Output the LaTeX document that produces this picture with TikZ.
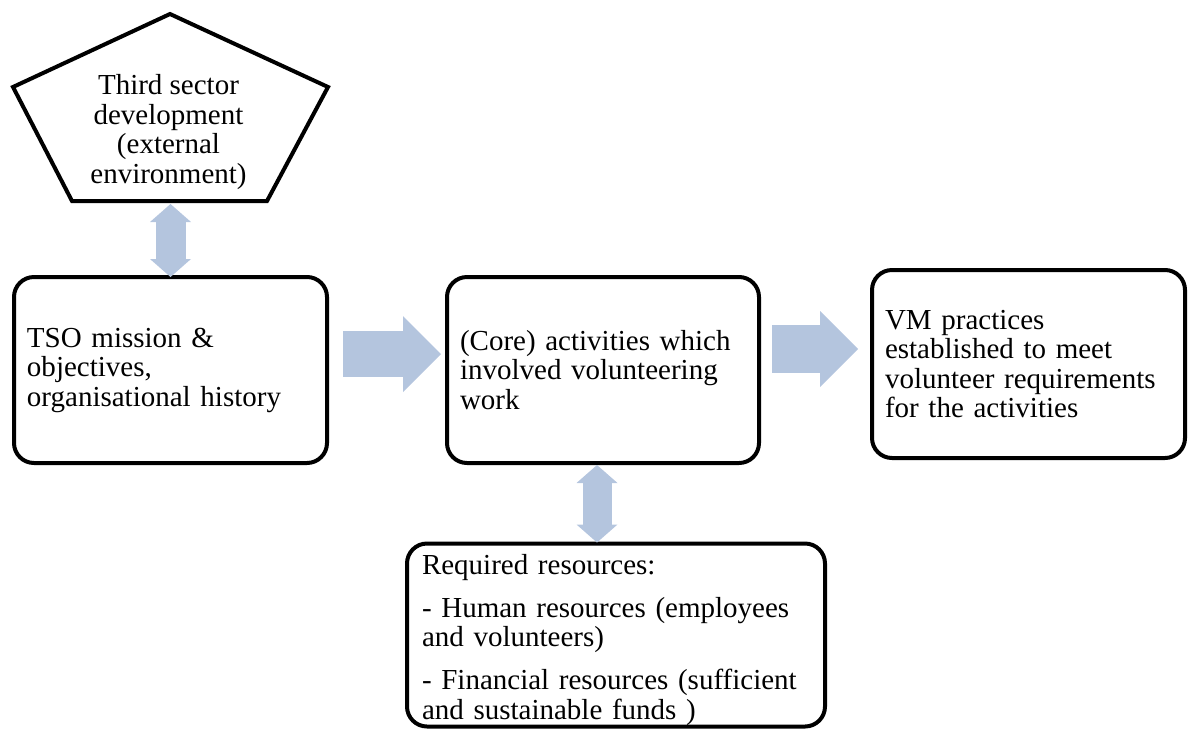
\documentclass[tikz,border=0pt]{standalone}
\usepackage{fontspec}
\setmainfont{Liberation Serif}
\usetikzlibrary{arrows.meta,calc}
\definecolor{arrowblue}{RGB}{180,197,222}
\tikzset{
  bodyfont/.style={font=\fontsize{29}{29.5}\selectfont},
  frame/.style={draw=black, line width=4pt, rounded corners=20pt, align=left,
    inner xsep=13pt, inner ysep=0pt, outer sep=0pt, bodyfont},
  bigarrow/.style={draw=arrowblue, line width=#1,
    -{Triangle[length=38pt,width=76pt,line width=0pt]}},
  twoway/.style={draw=arrowblue, line width=#1,
    {Triangle[length=18pt,width=41pt,line width=0pt]}-{Triangle[length=18pt,width=41pt,line width=0pt]}}
}
\begin{document}
\begin{tikzpicture}[x=1pt,y=-1pt]
\useasboundingbox (0,0) rectangle (1193,729);

% external environment pentagon
\coordinate (pt)  at (170,14);
\coordinate (pl)  at (13,87);
\coordinate (pr)  at (328,87);
\coordinate (pbr) at (267,201);
\coordinate (pbl) at (72,201);
\coordinate (pb)  at (169.5,201);
\draw[line width=4pt, line join=miter] (pt) -- (pr) -- (pbr) -- (pbl) -- (pl) -- cycle;
\node[align=center, bodyfont] (ext) at (168.5,132)
  {Third sector\\development\\(external\\environment)};

% boxes
\node[frame, minimum width=313pt, minimum height=186pt, text width=287pt]
  (tso) at (170.5,370) {TSO mission \&\\objectives,\\organisational history};
\node[frame, minimum width=312pt, minimum height=186pt, text width=286pt]
  (core) at (603,370) {(Core) activities which\\involved volunteering\\work};
\node[frame, minimum width=313pt, minimum height=188pt, text width=287pt]
  (vm) at (1028.5,364) {VM practices\\established to meet\\volunteer requirements\\for the activities};
\node[frame, inner xsep=15pt, minimum width=418pt, minimum height=183pt, text width=388pt]
  (res) at (616,635) {\rule{0pt}{30pt}Required resources:\\[13.5pt]
    - Human resources (employees\\and volunteers)\\[13.5pt]
    - Financial resources (sufficient\\and sustainable funds )};

% block arrows
\draw[twoway=30pt] ($(pb -| tso.north)+(0,3)$) -- (tso.north);
\draw[bigarrow=46pt] ($(tso.east)+(16,-16)$) -- ($(core.west)+(-6,-16)$);
\draw[bigarrow=48pt] ($(core.east)+(13,-21)$) -- ($(vm.west)+(-14,-15)$);
\draw[twoway=29pt] ($(core.south)+(-6,2)$) -- ($(res.north)+(-19,-1)$);
\end{tikzpicture}
\end{document}
